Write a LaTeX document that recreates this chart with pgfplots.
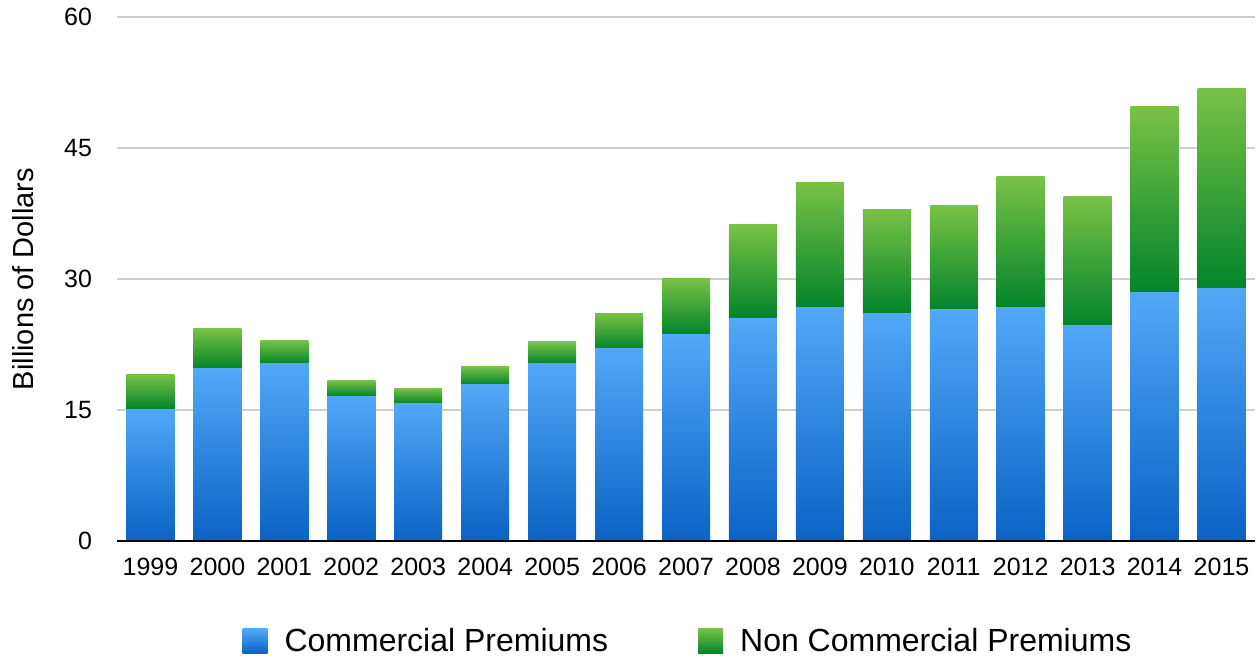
\documentclass[border=0pt]{standalone}
\usepackage{fontspec}
\setmainfont{Liberation Sans}
\usepackage{pgfplots}
\pgfplotsset{compat=1.18}
\definecolor{btop}{HTML}{52A8F7}
\definecolor{bbot}{HTML}{0A62C4}
\definecolor{gtop}{HTML}{78C246}
\definecolor{gbot}{HTML}{02842A}
\definecolor{gridc}{HTML}{CFCFCF}
\pgfplotsset{
  frame/.style={at={(0pt,0pt)}, anchor=south west,
    scale only axis, width=569pt, height=262pt,
    xmin=-0.5, xmax=16.5, ymin=0, ymax=60},
}
\begin{document}
\begin{tikzpicture}
\useasboundingbox (-58.5pt,-58.5pt) rectangle (571pt,270.5pt);
\begin{axis}[
  frame,
  xtick={0,...,16},
  xticklabels={1999,2000,2001,2002,2003,2004,2005,2006,2007,2008,2009,2010,2011,2012,2013,2014,2015},
  ytick={0,15,30,45,60},
  major tick length=0pt,
  axis x line=bottom, axis y line=left,
  x axis line style={-, line width=1pt, black},
  y axis line style={draw=none},
  ymajorgrids, grid style={gridc, line width=0.75pt},
  /pgf/number format/assume math mode=true,
  tick label style={font=\fontsize{12.5}{15}\selectfont},
  yticklabel style={xshift=-9pt},
  xticklabel shift=5pt,
  ylabel={Billions of Dollars},
  every axis y label/.style={at={(axis description cs:-0.0826,0.5)}, rotate=90, anchor=center, font=\fontsize{14.5}{17}\selectfont},
  legend columns=2,
  legend style={at={(axis description cs:0.5026,-0.191)}, anchor=center, draw=none, fill=none,
    font=\fontsize{16}{19}\selectfont,
    /tikz/every even column/.append style={column sep=43pt}},
  legend cell align=left,
]
\addlegendimage{legend image code/.code={\shade[draw=none, top color=btop, bottom color=bbot] (0pt,-6.25pt) rectangle (12.5pt,6.25pt);\path[draw=none, fill=none] (0pt,0pt) -- (19pt,0pt);}}
\addlegendentry{Commercial Premiums}
\addlegendimage{legend image code/.code={\shade[draw=none, top color=gtop, bottom color=gbot] (0pt,-6.25pt) rectangle (12.5pt,6.25pt);\path[draw=none, fill=none] (0pt,0pt) -- (19pt,0pt);}}
\addlegendentry{Non Commercial Premiums}
\end{axis}
% one stacked bar per year: x / commercial / non commercial
\foreach \k/\c/\n in {0/15.1/4.0, 1/19.7/4.6, 2/20.3/2.7, 3/16.6/1.8, 4/15.7/1.8,
  5/17.9/2.1, 6/20.3/2.5, 7/22.0/4.1, 8/23.7/6.4, 9/25.5/10.7, 10/26.7/14.4,
  11/26.1/11.9, 12/26.5/11.9, 13/26.7/15.0, 14/24.7/14.8, 15/28.5/21.2, 16/28.9/22.9}{
\begin{axis}[frame, hide axis, ybar stacked, bar width=24pt]
\addplot[draw=none, top color=btop, bottom color=bbot] coordinates {(\k,\c)};
\addplot[draw=none, top color=gtop, bottom color=gbot] coordinates {(\k,\n)};
\end{axis}
}
% baseline drawn over the bars
\begin{axis}[frame, axis x line=bottom, axis y line=none, xtick=\empty, ytick=\empty,
  x axis line style={-, line width=1pt, black}]
\end{axis}
\end{tikzpicture}
\end{document}
